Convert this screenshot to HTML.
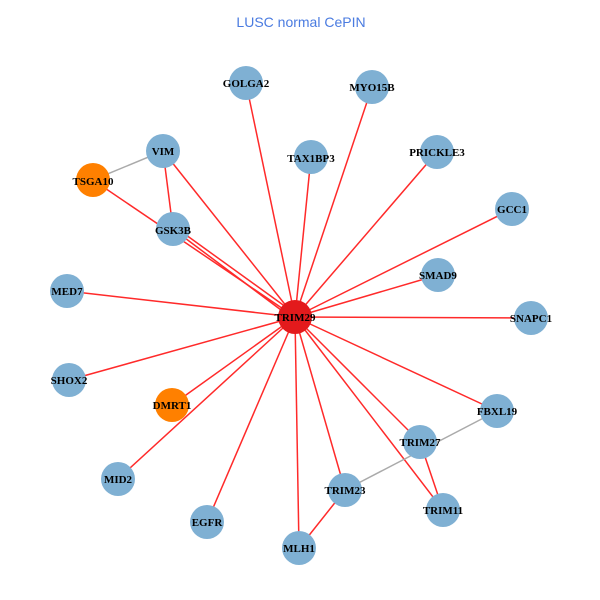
<!DOCTYPE html>
<html><head><meta charset="utf-8"><style>body{margin:0;background:#fff}svg{display:block}</style></head><body>
<svg width="600" height="600" viewBox="0 0 600 600" xmlns="http://www.w3.org/2000/svg">
<rect width="600" height="600" fill="#fff"/>
<text x="301" y="27" text-anchor="middle" font-family="Liberation Sans, sans-serif" font-size="14" fill="#4a7be0">LUSC normal CePIN</text>
<g stroke="#ff2a2a" stroke-width="1.5">
<line x1="295" y1="317" x2="246" y2="83"/>
<line x1="295" y1="317" x2="372" y2="87"/>
<line x1="295" y1="317" x2="311" y2="157"/>
<line x1="295" y1="317" x2="437" y2="152"/>
<line x1="295" y1="317" x2="512" y2="209"/>
<line x1="295" y1="317" x2="163" y2="151"/>
<line x1="295" y1="317" x2="93" y2="180"/>
<line x1="293" y1="319" x2="173" y2="229"/>
<line x1="297" y1="315" x2="175" y2="227"/>
<line x1="295" y1="317" x2="438" y2="275"/>
<line x1="295" y1="317" x2="67" y2="291"/>
<line x1="295" y1="317" x2="69" y2="380"/>
<line x1="295" y1="317" x2="172" y2="405"/>
<line x1="295" y1="317" x2="118" y2="479"/>
<line x1="295" y1="317" x2="207" y2="522"/>
<line x1="295" y1="317" x2="299" y2="548"/>
<line x1="295" y1="317" x2="345" y2="490"/>
<line x1="295" y1="317" x2="443" y2="510"/>
<line x1="295" y1="317" x2="420" y2="442"/>
<line x1="295" y1="317" x2="497" y2="411"/>
<line x1="295" y1="317" x2="531" y2="318"/>
<line x1="163" y1="151" x2="173" y2="229"/>
<line x1="420" y1="442" x2="443" y2="510"/>
<line x1="345" y1="490" x2="299" y2="548"/>
</g>
<g stroke="#aaaaaa" stroke-width="1.5">
<line x1="93" y1="180" x2="163" y2="151"/>
<line x1="345" y1="490" x2="497" y2="411"/>
</g>
<g fill="#7fb0d3">
<circle cx="246" cy="83" r="17"/><circle cx="372" cy="87" r="17"/><circle cx="311" cy="157" r="17"/>
<circle cx="437" cy="152" r="17"/><circle cx="512" cy="209" r="17"/><circle cx="163" cy="151" r="17"/>
<circle cx="173" cy="229" r="17"/><circle cx="438" cy="275" r="17"/><circle cx="67" cy="291" r="17"/>
<circle cx="531" cy="318" r="17"/><circle cx="69" cy="380" r="17"/><circle cx="497" cy="411" r="17"/>
<circle cx="420" cy="442" r="17"/><circle cx="118" cy="479" r="17"/><circle cx="345" cy="490" r="17"/>
<circle cx="443" cy="510" r="17"/><circle cx="207" cy="522" r="17"/><circle cx="299" cy="548" r="17"/>
</g>
<circle cx="93" cy="180" r="17" fill="#ff8000"/>
<circle cx="172" cy="405" r="17" fill="#ff8000"/>
<circle cx="295" cy="317" r="17" fill="#e31a1c"/>
<g font-family="Liberation Serif, serif" font-weight="bold" font-size="11" fill="#000" text-anchor="middle">
<text x="246" y="87">GOLGA2</text><text x="372" y="91">MYO15B</text><text x="311" y="162">TAX1BP3</text>
<text x="437" y="156">PRICKLE3</text><text x="512" y="213">GCC1</text><text x="163" y="155">VIM</text>
<text x="93" y="185">TSGA10</text><text x="173" y="234">GSK3B</text><text x="438" y="279">SMAD9</text>
<text x="67" y="295">MED7</text><text x="531" y="322">SNAPC1</text><text x="69" y="384">SHOX2</text>
<text x="172" y="409">DMRT1</text><text x="497" y="415">FBXL19</text><text x="420" y="446">TRIM27</text>
<text x="118" y="483">MID2</text><text x="345" y="494">TRIM23</text><text x="443" y="514">TRIM11</text>
<text x="207" y="526">EGFR</text><text x="299" y="552">MLH1</text><text x="295" y="321">TRIM29</text>
</g>
</svg>
</body></html>
